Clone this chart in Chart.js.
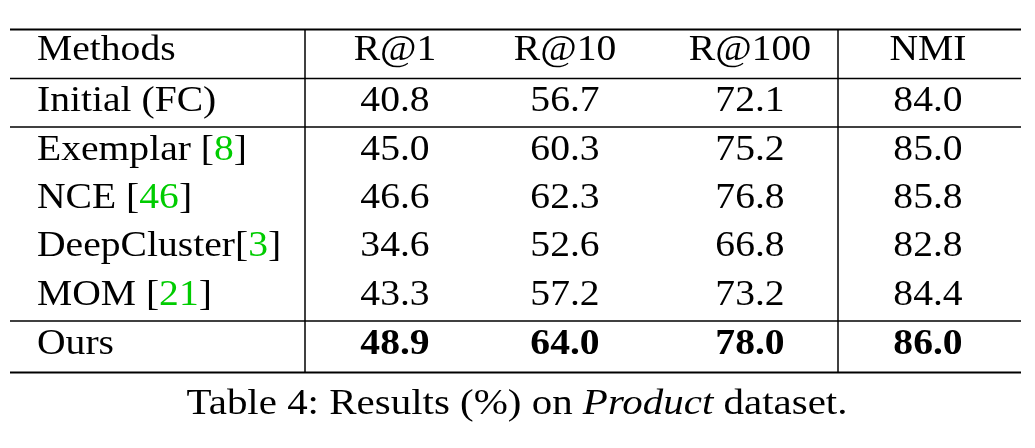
<!DOCTYPE html>
<html>
<head>
<meta charset="utf-8">
<script src="https://cdn.jsdelivr.net/npm/chart.js@4/dist/chart.umd.min.js"></script>
<style>
  html, body { margin: 0; padding: 0; background: #fff; }
  canvas { display: block; }
</style>
</head>
<body>
<canvas id="tbl" width="1035" height="448"></canvas>
<script>
// Table data
const columns = ['Methods', 'R@1', 'R@10', 'R@100', 'NMI'];
const methods = ['Initial (FC)', 'Exemplar', 'NCE', 'DeepCluster', 'MOM', 'Ours'];
const refs = ['', '[8]', '[46]', '[3]', '[21]', ''];
const r1 = [40.8, 45.0, 46.6, 34.6, 43.3, 48.9];
const r10 = [56.7, 60.3, 62.3, 52.6, 57.2, 64.0];
const r100 = [72.1, 75.2, 76.8, 66.8, 73.2, 78.0];
const nmi = [84.0, 85.0, 85.8, 82.8, 84.4, 86.0];
const caption = 'Table 4: Results (%) on Product dataset.';

// layout (pixel positions of columns / rows)
const colX = [37, 395, 565, 750, 928];
const rowY = [51, 102, 151, 199, 247, 296, 345];

const valueCols = [r1, r10, r100, nmi];
const cells = [];
columns.forEach((c, i) => cells.push({ x: colX[i], y: rowY[0], text: c, kind: i === 0 ? 'left' : 'center' }));
methods.forEach((m, r) => {
    cells.push({ x: colX[0], y: rowY[r + 1], text: m, ref: refs[r], kind: 'left', gap: m === 'DeepCluster' ? '' : ' ' });
    valueCols.forEach((vals, c) => {
        cells.push({ x: colX[c + 1], y: rowY[r + 1], text: vals[r].toFixed(1), kind: 'center', bold: r === methods.length - 1 });
    });
});

const serif = '"Liberation Serif", "DejaVu Serif", serif';
const SX = 1.1;   // horizontal stretch of table text
const CSX = 1.17; // horizontal stretch of caption

const tablePlugin = {
    id: 'tablePlugin',
    afterDatasetsDraw(chart) {
        const ctx = chart.ctx;
        const xs = chart.scales.x, ys = chart.scales.y;
        const meta = chart.getDatasetMeta(0);
        ctx.save();
        ctx.textBaseline = 'middle';
        meta.data.forEach((pt, i) => {
            const c = cells[i];
            ctx.save();
            ctx.translate(pt.x, pt.y);
            ctx.scale(SX, 1);
            ctx.font = (c.bold ? 'bold ' : '') + '36px ' + serif;
            ctx.fillStyle = '#000';
            if (c.kind === 'left') {
                ctx.textAlign = 'left';
                ctx.fillText(c.text, 0, 0);
                if (c.ref) {
                    let x = ctx.measureText(c.text + c.gap).width;
                    ctx.fillText('[', x, 0);
                    x += ctx.measureText('[').width;
                    const num = c.ref.slice(1, -1);
                    ctx.fillStyle = '#00cc00';
                    ctx.fillText(num, x, 0);
                    x += ctx.measureText(num).width;
                    ctx.fillStyle = '#000';
                    ctx.fillText(']', x, 0);
                }
            } else {
                ctx.textAlign = 'center';
                ctx.fillText(c.text, 0, 0);
            }
            ctx.restore();
        });
        // rules
        const hl = (v, w) => {
            ctx.lineWidth = w;
            ctx.beginPath();
            ctx.moveTo(xs.getPixelForValue(10), ys.getPixelForValue(v));
            ctx.lineTo(xs.getPixelForValue(1021), ys.getPixelForValue(v));
            ctx.stroke();
        };
        const vl = (v) => {
            ctx.lineWidth = 1.5;
            ctx.beginPath();
            ctx.moveTo(xs.getPixelForValue(v), ys.getPixelForValue(29));
            ctx.lineTo(xs.getPixelForValue(v), ys.getPixelForValue(373));
            ctx.stroke();
        };
        ctx.strokeStyle = '#000';
        hl(29.5, 2); hl(78.5, 1.5); hl(127, 1.5); hl(321, 1.5); hl(372.5, 2);
        vl(305); vl(838);
        // caption
        ctx.fillStyle = '#000';
        const cy = ys.getPixelForValue(405);
        const parts = [['Table 4: Results (%) on ', 'normal'], ['Product', 'italic'], [' dataset.', 'normal']];
        let total = 0;
        parts.forEach(p => { ctx.font = p[1] + ' 35px ' + serif; total += ctx.measureText(p[0]).width; });
        ctx.translate(xs.getPixelForValue(517), cy);
        ctx.scale(CSX, 1);
        let x = -total / 2;
        ctx.textAlign = 'left';
        parts.forEach(p => {
            ctx.font = p[1] + ' 35px ' + serif;
            ctx.fillText(p[0], x, 0);
            x += ctx.measureText(p[0]).width;
        });
        ctx.restore();
    }
};

new Chart(document.getElementById('tbl'), {
    type: 'scatter',
    data: {
        datasets: [{
            label: caption,
            data: cells.map(c => ({ x: c.x, y: c.y })),
            pointRadius: 0
        }]
    },
    options: {
        responsive: false,
        animation: false,
        devicePixelRatio: 1,
        layout: { padding: 0 },
        plugins: { legend: { display: false }, tooltip: { enabled: false } },
        scales: {
            x: { type: 'linear', min: 0, max: 1035, display: false },
            y: { type: 'linear', min: 0, max: 448, reverse: true, display: false }
        }
    },
    plugins: [tablePlugin]
});
</script>
</body>
</html>
